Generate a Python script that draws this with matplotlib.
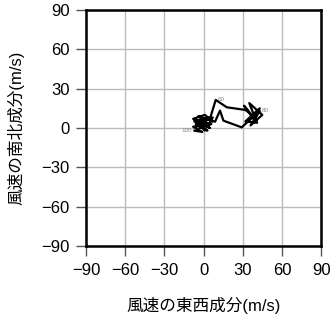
import matplotlib
matplotlib.use("Agg")
import matplotlib.pyplot as plt

plt.rcParams['font.family'] = ['Liberation Sans', 'Noto Sans CJK JP', 'DejaVu Sans']

# Hodograph wind components (m/s)
u_wind = [0, -6, 3, -7, 4, -3, 6, -8, 1, 7, -4, 4, 7, 5,
          9.3, 17.8, 31.8,
          36, 31, 39, 43, 32, 41, 35, 45, 36, 43,
          29.2, 15.2, 12.6, 8.8,
          2, -5, 5, -7, 1, -3, 4, -8, -1, -7]
v_wind = [0, 3, -2, 5, 8, 0, 3, 7, 10, 5, 9, 2, 8, 7.4,
          21.4, 15.8, 13.8,
          11, 17, 6, 15, 5, 4, 19, 10, 2, 13,
          0.5, 5.6, 13.3, 4.8,
          7, 4, 0, 6, -2, 5, 2, 1, -3, -2]
label_idx = [14, 26, 40]
label_txt = ["60", "80", "100"]
label_side = ["left", "left", "right"]

ticks = [-90, -60, -30, 0, 30, 60, 90]
tick_labels = ["\u221290", "\u221260", "\u221230", "0", "30", "60", "90"]

fig = plt.figure(figsize=(3.31, 3.18), dpi=100)
ax = fig.add_axes([0.26, 0.2264, 0.71, 0.7422])
ax.set_xlim(-90, 90)
ax.set_ylim(-90, 90)
ax.set_xticks(ticks)
ax.set_yticks(ticks)
ax.set_xticklabels(tick_labels, fontsize=12)
ax.set_yticklabels(tick_labels, fontsize=12)
ax.grid(True, color="#bbbbbb", linewidth=1)
ax.set_axisbelow(True)
ax.tick_params(direction="out", length=7, width=1, color="#555555", pad=5)
for s in ax.spines.values():
    s.set_linewidth(1.8)

ax.plot(u_wind, v_wind, color="black", linewidth=1.6)
for i, t, side in zip(label_idx, label_txt, label_side):
    off = 1.5 if side == "left" else -1.5
    ax.text(u_wind[i] + off, v_wind[i], t, fontsize=4.5, color="#888888",
            ha=side, va="center")

ax.set_xlabel("風速の東西成分(m/s)", fontsize=12, labelpad=14)
ax.set_ylabel("風速の南北成分(m/s)", fontsize=12, labelpad=12)

fig.savefig("out.png", dpi=100)
